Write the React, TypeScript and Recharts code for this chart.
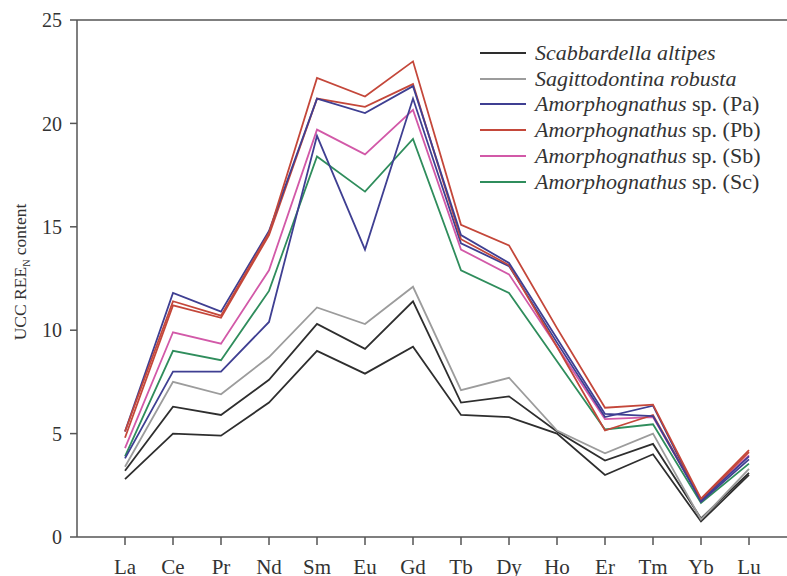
import React from 'react';
import { LineChart, Line, XAxis, YAxis, ReferenceLine, Legend } from 'recharts';

// REE elements on the x axis
const elements = ['La', 'Ce', 'Pr', 'Nd', 'Sm', 'Eu', 'Gd', 'Tb', 'Dy', 'Ho', 'Er', 'Tm', 'Yb', 'Lu'];
const yTicks = [0, 5, 10, 15, 20, 25];

// Scabbardella altipes (two specimens)
const scabA1 = [3.2, 6.3, 5.9, 7.6, 10.3, 9.1, 11.4, 6.5, 6.8, 5.1, 3.7, 4.5, 0.9, 3.1];
const scabA2 = [2.8, 5.0, 4.9, 6.5, 9.0, 7.9, 9.2, 5.9, 5.8, 5.0, 3.0, 4.0, 0.75, 3.0];
// Sagittodontina robusta
const sagR = [3.4, 7.5, 6.9, 8.7, 11.1, 10.3, 12.1, 7.1, 7.7, 5.15, 4.05, 5.0, 0.85, 3.3];
// Amorphognathus sp. (Pa)
const amorPa1 = [5.1, 11.8, 10.9, 14.8, 21.2, 20.5, 21.8, 14.6, 13.25, 9.6, 5.95, 5.85, 1.75, 3.9];
const amorPa2 = [3.8, 8.0, 8.0, 10.4, 19.4, 13.9, 21.2, 14.2, 13.1, 9.4, 5.8, 6.35, 1.7, 3.75];
// Amorphognathus sp. (Pb)
const amorPb1 = [5.1, 11.4, 10.7, 14.7, 22.2, 21.3, 23.0, 15.1, 14.1, 10.1, 6.25, 6.4, 1.85, 4.2];
const amorPb2 = [4.8, 11.2, 10.6, 14.6, 21.2, 20.8, 21.9, 14.4, 13.15, 9.2, 5.15, 5.9, 1.8, 4.1];
// Amorphognathus sp. (Sb)
const amorSb = [4.3, 9.9, 9.35, 12.9, 19.7, 18.5, 20.65, 13.9, 12.7, 9.2, 5.7, 5.8, 1.8, 3.95];
// Amorphognathus sp. (Sc)
const amorSc = [3.9, 9.0, 8.55, 11.9, 18.4, 16.7, 19.25, 12.9, 11.8, 8.5, 5.2, 5.45, 1.65, 3.55];

const COLORS = {
  black: '#2e2e2e',
  gray: '#9c9c9c',
  blue: '#3f3f92',
  red: '#c4473a',
  pink: '#d259a8',
  green: '#2f8d5c',
};

const legendItems = [
  { genus: 'Scabbardella altipes', suffix: '', color: COLORS.black },
  { genus: 'Sagittodontina robusta', suffix: '', color: COLORS.gray },
  { genus: 'Amorphognathus', suffix: ' sp. (Pa)', color: COLORS.blue },
  { genus: 'Amorphognathus', suffix: ' sp. (Pb)', color: COLORS.red },
  { genus: 'Amorphognathus', suffix: ' sp. (Sb)', color: COLORS.pink },
  { genus: 'Amorphognathus', suffix: ' sp. (Sc)', color: COLORS.green },
];

const series = [
  { key: 'sa1', color: COLORS.black },
  { key: 'sa2', color: COLORS.black },
  { key: 'sr', color: COLORS.gray },
  { key: 'sc', color: COLORS.green },
  { key: 'sb', color: COLORS.pink },
  { key: 'pa2', color: COLORS.blue },
  { key: 'pb2', color: COLORS.red },
  { key: 'pa1', color: COLORS.blue },
  { key: 'pb1', color: COLORS.red },
];

const data = elements.map((el, i) => ({
  el,
  sa1: scabA1[i],
  sa2: scabA2[i],
  sr: sagR[i],
  pa1: amorPa1[i],
  pa2: amorPa2[i],
  pb1: amorPb1[i],
  pb2: amorPb2[i],
  sb: amorSb[i],
  sc: amorSc[i],
}));

const FONT = '"Liberation Serif", "DejaVu Serif", serif';
const AXIS = '#555';

const LegendBox = () => (
  <div style={{ fontFamily: FONT, fontSize: 22, color: '#333' }}>
    {legendItems.map((it, i) => (
      <div key={i} style={{ display: 'flex', alignItems: 'center', height: 25.8 }}>
        <svg width={46} height={4} style={{ marginRight: 9 }}>
          <line x1={0} y1={2} x2={46} y2={2} stroke={it.color} strokeWidth={2} />
        </svg>
        <span style={{ lineHeight: 1 }}>
          <i>{it.genus}</i>
          {it.suffix}
        </span>
      </div>
    ))}
  </div>
);

const YLabel = () => {
  const cx = 26;
  const cy = 272;
  return (
    <text
      x={cx}
      y={cy}
      transform={`rotate(-90, ${cx}, ${cy})`}
      textAnchor="middle"
      fontFamily={FONT}
      fontSize={17.5}
      fill="#333"
    >
      UCC REE
      <tspan fontSize={10} dy={4}>N</tspan>
      <tspan dy={-4}> content</tspan>
    </text>
  );
};

export default function App() {
  return (
    <div style={{ position: 'absolute', left: 0, top: 0, width: 787, height: 576, background: '#fff' }}>
      <LineChart width={787} height={576} data={data} margin={{ top: 20, right: 0, bottom: 0, left: 0 }}>
        <XAxis
          dataKey="el"
          height={39}
          padding={{ left: 48, right: 38 }}
          stroke={AXIS}
          strokeWidth={1.5}
          tickSize={8}
          tickMargin={14}
          tick={{ fill: '#333', fontSize: 21, fontFamily: FONT }}
          interval={0}
        />
        <YAxis
          width={77}
          domain={[0, 25]}
          ticks={yTicks}
          stroke={AXIS}
          strokeWidth={1.5}
          tickSize={7}
          tickMargin={8}
          tick={{ fill: '#333', fontSize: 20, fontFamily: FONT }}
          label={<YLabel />}
        />
        <ReferenceLine y={25} stroke={AXIS} strokeWidth={1.5} />
        <Legend
          layout="vertical"
          align="center"
          verticalAlign="middle"
          content={<LegendBox />}
          wrapperStyle={{ left: 480, top: 40, width: 300, height: 160 }}
        />
        {series.map((s) => (
          <Line
            key={s.key}
            dataKey={s.key}
            type="linear"
            stroke={s.color}
            strokeWidth={1.8}
            dot={false}
            activeDot={false}
            legendType="none"
            isAnimationActive={false}
          />
        ))}
      </LineChart>
    </div>
  );
}
